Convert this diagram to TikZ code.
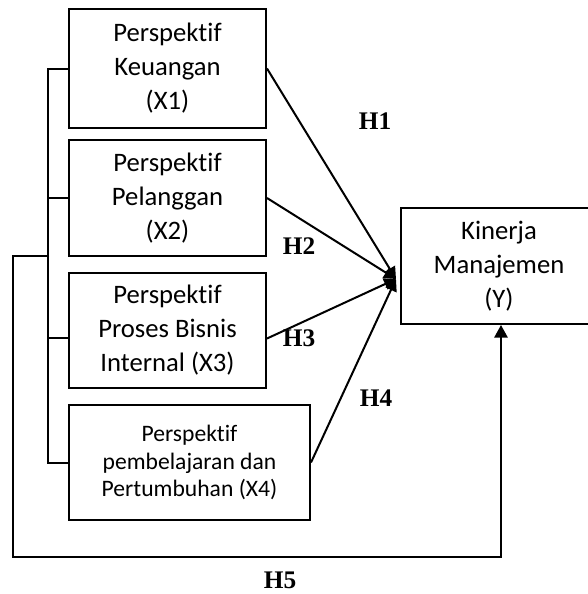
\documentclass[tikz,border=0pt]{standalone}
\usepackage{fontspec}
\setmainfont{Carlito}[Ligatures=NoCommon]
\newfontfamily\hypfont{Liberation Serif}
\usetikzlibrary{arrows.meta}

\tikzset{
  varbox/.style={draw, line width=1.5pt, align=center, inner sep=0pt,
    font=\fontsize{20}{25.5}\selectfont},
  hyplabel/.style={inner sep=0pt, font=\hypfont\bfseries\fontsize{19}{21}\selectfont},
  wire/.style={line width=1.5pt},
  hyparrow/.style={line width=1.5pt, -{Triangle[length=9pt,width=9pt]}},
}

\begin{document}
\begin{tikzpicture}[x=0.75pt,y=0.75pt,yscale=-1]
\useasboundingbox (0,0) rectangle (587,594);

%Shape: Rectangle [id:X1]
\node [varbox, minimum width=147.75pt, minimum height=89.25pt] (X1) at (167.5,68.5) {Perspektif\\Keuangan\\(X1)};
%Shape: Rectangle [id:X2]
\node [varbox, minimum width=147.75pt, minimum height=87pt] (X2) at (167.5,198) {Perspektif\\Pelanggan\\(X2)};
%Shape: Rectangle [id:X3]
\node [varbox, minimum width=147.75pt, minimum height=86.25pt] (X3) at (167.5,330.5) {Perspektif\\Proses Bisnis\\Internal (X3)};
%Shape: Rectangle [id:X4]
\node [varbox, minimum width=180.75pt, minimum height=86.25pt, font=\fontsize{17.7}{20.5}\selectfont] (X4) at (189.5,462.5) {Perspektif\\pembelajaran dan\\Pertumbuhan (X4)};
%Shape: Rectangle [id:Y]
\node [varbox, minimum width=147pt, minimum height=87pt] (Y) at (499,266) {Kinerja\\Manajemen\\(Y)};

\coordinate (hub) at ([xshift=-3pt,yshift=9.75pt]Y.west);
\coordinate (X3w) at ([yshift=5.25pt]X3.west);
\coordinate (X3e) at ([yshift=6pt]X3.east);
\coordinate (tap) at (49,256);
\coordinate (corner) at (13,557);

%Straight Lines [id:bus]
\draw [wire] (X1.west) -- ++(-20,0) |- (X4.west);
\draw [wire] (X2.west) -- ++(-20,0);
\draw [wire] (X3w) -- ++(-20,0);

%Straight Lines [id:H1-H4]
\draw [hyparrow] (X1.east) -- (hub);
\draw [hyparrow] (X2.east) -- (hub);
\draw [hyparrow] (X3e) -- (hub);
\draw [hyparrow] (X4.east) -- (hub);

%Straight Lines [id:H5]
\draw [wire, -{Triangle[length=9.5pt,width=10pt]}] (tap) -| (corner) -| ([xshift=1.5pt]Y.south);

% Text Node
\node [hyplabel] (h1) at (375,121) {H1};
% Text Node
\node [hyplabel] (h2) at (299,246) {H2};
% Text Node
\node [hyplabel] (h3) at (299,338) {H3};
% Text Node
\node [hyplabel] (h4) at (376,398) {H4};
% Text Node
\node [hyplabel] (h5) at (280,580) {H5};
\end{tikzpicture}
\end{document}
